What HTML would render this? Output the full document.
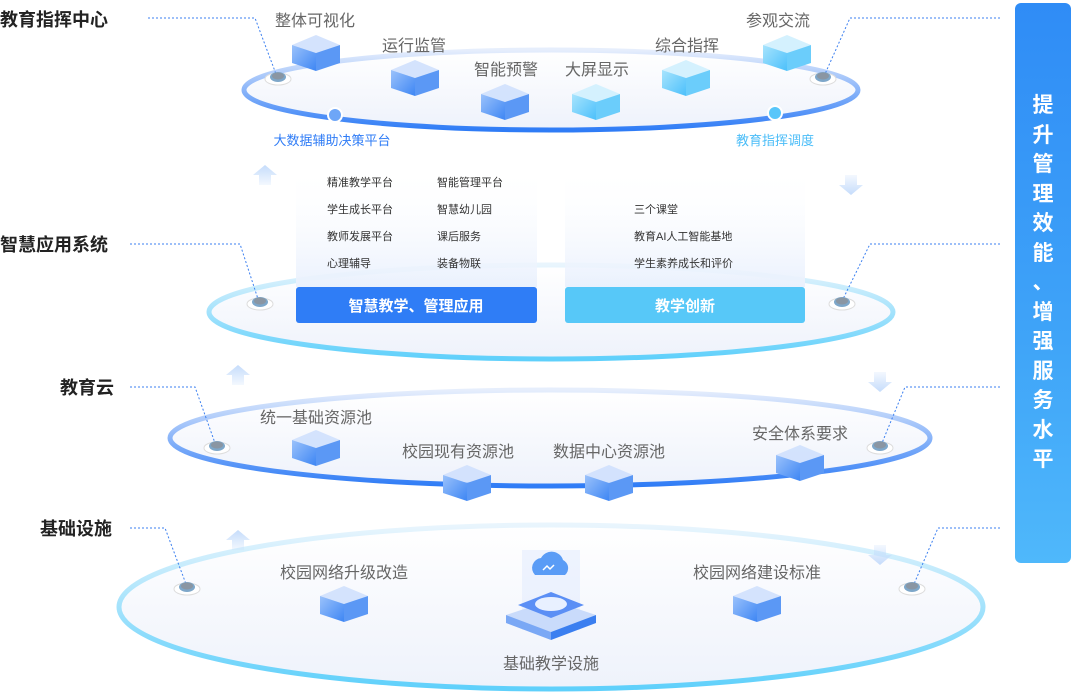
<!DOCTYPE html><html><head><meta charset="utf-8"><style>
body{margin:0;width:1074px;height:695px;background:#fff;overflow:hidden;font-family:"Liberation Sans","Noto Sans CJK SC",sans-serif}
svg{position:absolute;left:0;top:0}
.bar{position:absolute;left:1015px;top:3px;width:56px;height:560px;border-radius:6px;background:linear-gradient(180deg,#2f8cf6,#3fa4f8 60%,#4fb8fb);color:#fff;font-weight:bold;font-size:21px;text-align:center;line-height:29.5px;padding-top:88px;box-sizing:border-box}
</style></head><body>
<svg width="1074" height="695" viewBox="0 0 1074 695" font-family="Liberation Sans,Noto Sans CJK SC,sans-serif">
<defs>
<linearGradient id="fill" x1="0" y1="0" x2="0" y2="1"><stop offset="0" stop-color="#fff"/><stop offset="1" stop-color="#eef2fb"/></linearGradient>
<linearGradient id="sb" x1="0" y1="0" x2="0" y2="1"><stop offset="0" stop-color="#e6eefc"/><stop offset="1" stop-color="#2f7cf6"/></linearGradient>
<linearGradient id="sc" x1="0" y1="0" x2="0" y2="1"><stop offset="0" stop-color="#e9f5fd"/><stop offset="1" stop-color="#5fd0fb"/></linearGradient>
<linearGradient id="cb" x1="0" y1="0" x2="1" y2="1"><stop offset="0" stop-color="#9bc2fb"/><stop offset="1" stop-color="#3e86f4"/></linearGradient>
<linearGradient id="cc" x1="0" y1="0" x2="1" y2="1"><stop offset="0" stop-color="#a8e4fd"/><stop offset="1" stop-color="#4cc0fb"/></linearGradient>
<linearGradient id="pan" x1="0" y1="0" x2="0" y2="1"><stop offset="0" stop-color="#fff" stop-opacity="0"/><stop offset="1" stop-color="#eaf1fd"/></linearGradient>
<linearGradient id="ar" x1="0" y1="0" x2="0" y2="1"><stop offset="0" stop-color="#c5dcfb"/><stop offset="1" stop-color="#c5dcfb" stop-opacity="0.2"/></linearGradient>
<g id="cube"><polygon points="0,10 24,0 48,10 24,18" fill="#cfe0fd" opacity=".9"/><polygon points="0,10 24,18 24,36 0,28" fill="url(#cb)"/><polygon points="24,18 48,10 48,28 24,36" fill="#5b98f5"/></g>
<g id="cubec"><polygon points="0,10 24,0 48,10 24,18" fill="#d4f1fe"/><polygon points="0,10 24,18 24,36 0,28" fill="url(#cc)"/><polygon points="24,18 48,10 48,28 24,36" fill="#6bcdfb"/></g>
<g id="btn"><ellipse cx="0" cy="0" rx="13" ry="6" fill="#fff" stroke="#ddd"/><ellipse cx="0" cy="-2" rx="8" ry="5" fill="#7ea7c9"/><ellipse cx="0" cy="-3" rx="6" ry="3.5" fill="#8a96a3"/></g>
<g id="up"><polygon points="0,0 12,10 6,10 6,20 -6,20 -6,10 -12,10" fill="url(#ar)"/></g>
</defs>
<!-- ellipses -->
<ellipse cx="551" cy="607" rx="432" ry="82" fill="url(#fill)" stroke="url(#sc)" stroke-width="5"/>
<ellipse cx="550" cy="438" rx="380" ry="48" fill="url(#fill)" stroke="url(#sb)" stroke-width="5"/>
<ellipse cx="551" cy="312" rx="342" ry="47" fill="url(#fill)" stroke="url(#sc)" stroke-width="5"/>
<ellipse cx="551" cy="90" rx="307" ry="40" fill="url(#fill)" stroke="url(#sb)" stroke-width="5"/>
<circle cx="335" cy="115" r="7" fill="#6ea6f7" stroke="#fff" stroke-width="2"/>
<circle cx="775" cy="113" r="7" fill="#58c6fa" stroke="#fff" stroke-width="2"/>
<!-- arrows -->
<use href="#up" x="265" y="165"/><use href="#up" x="238" y="365"/><use href="#up" x="238" y="530"/>
<use href="#up" transform="translate(851,195) scale(1,-1)"/><use href="#up" transform="translate(880,392) scale(1,-1)"/><use href="#up" transform="translate(880,565) scale(1,-1)"/>
<!-- dotted connectors -->
<g fill="none" stroke="#3b7ff0" stroke-width="1" stroke-dasharray="2,2">
<polyline points="148,18 255,18 276,74"/><polyline points="1000,18 850,18 825,74"/>
<polyline points="130,244 240,244 258,299"/><polyline points="1000,244 870,244 843,299"/>
<polyline points="130,387 195,387 215,443"/><polyline points="1000,387 905,387 882,443"/>
<polyline points="130,528 165,528 186,584"/><polyline points="1000,528 938,528 914,584"/>
</g>
<use href="#btn" x="278" y="79"/><use href="#btn" x="823" y="79"/><use href="#btn" x="260" y="304"/><use href="#btn" x="842" y="304"/>
<use href="#btn" x="217" y="448"/><use href="#btn" x="880" y="448"/><use href="#btn" x="187" y="589"/><use href="#btn" x="912" y="589"/>
<!-- cubes -->
<use href="#cube" x="292" y="35"/><use href="#cube" x="391" y="60"/><use href="#cube" x="481" y="84"/><use href="#cubec" x="572" y="84"/><use href="#cubec" x="662" y="60"/><use href="#cubec" x="763" y="35"/>
<use href="#cube" x="292" y="430"/><use href="#cube" x="443" y="465"/><use href="#cube" x="585" y="465"/><use href="#cube" x="776" y="445"/>
<use href="#cube" x="320" y="586"/><use href="#cube" x="733" y="586"/>
<!-- base facility icon -->
<rect x="522" y="550" width="58" height="80" fill="#dfe9fd" opacity=".5"/>
<polygon points="506,615 551,600 596,615 551,632" fill="#c9dbfb"/>
<polygon points="506,615 551,632 551,640 506,623" fill="#7aa8f5"/><polygon points="551,632 596,615 596,623 551,640" fill="#3b7ff0"/>
<polygon points="518,605 551,592 584,605 551,618" fill="#5b8ff5"/>
<ellipse cx="551" cy="604" rx="16" ry="7" fill="#e8f0ff"/>
<path d="M535 575 a10 10 0 0 1 6 -17 a12 12 0 0 1 22 2 a9 9 0 0 1 2 15z" fill="#5a9cf6"/>
<path d="M543 570 l4 -4 l3 3 l4 -4" stroke="#fff" stroke-width="1.5" fill="none"/>
<!-- panels -->
<rect x="296" y="165" width="241" height="122" fill="url(#pan)"/>
<rect x="565" y="165" width="240" height="122" fill="url(#pan)"/>
<rect x="296" y="287" width="241" height="36" rx="3" fill="#2f7df6"/>
<rect x="565" y="287" width="240" height="36" rx="3" fill="#57c8f8"/>
<g font-size="15" font-weight="bold" fill="#fff" text-anchor="middle"><text x="416" y="311">智慧教学、管理应用</text><text x="685" y="311">教学创新</text></g>
<g font-size="11" fill="#333">
<text x="327" y="186">精准教学平台</text><text x="437" y="186">智能管理平台</text>
<text x="327" y="213">学生成长平台</text><text x="437" y="213">智慧幼儿园</text>
<text x="327" y="240">教师发展平台</text><text x="437" y="240">课后服务</text>
<text x="327" y="267">心理辅导</text><text x="437" y="267">装备物联</text>
<text x="634" y="213">三个课堂</text><text x="634" y="240">教育AI人工智能基地</text><text x="634" y="267">学生素养成长和评价</text>
</g>
<!-- labels -->
<g font-size="16" fill="#666" text-anchor="middle">
<text x="315" y="26">整体可视化</text><text x="414" y="51">运行监管</text><text x="506" y="75">智能预警</text><text x="597" y="75">大屏显示</text><text x="687" y="51">综合指挥</text><text x="778" y="26">参观交流</text>
<text x="316" y="423">统一基础资源池</text><text x="458" y="457">校园现有资源池</text><text x="609" y="457">数据中心资源池</text><text x="800" y="439">安全体系要求</text>
<text x="344" y="578">校园网络升级改造</text><text x="757" y="578">校园网络建设标准</text><text x="551" y="669">基础教学设施</text>
</g>
<text x="332" y="145" font-size="13" fill="#2f7cf6" text-anchor="middle">大数据辅助决策平台</text>
<text x="775" y="145" font-size="13" fill="#4bbdf8" text-anchor="middle">教育指挥调度</text>
<g font-size="18" font-weight="bold" fill="#222">
<text x="0" y="26">教育指挥中心</text><text x="0" y="251">智慧应用系统</text><text x="60" y="394">教育云</text><text x="40" y="535">基础设施</text>
</g>
</svg>
<div class="bar">提<br>升<br>管<br>理<br>效<br>能<br>、<br>增<br>强<br>服<br>务<br>水<br>平</div>
</body></html>
